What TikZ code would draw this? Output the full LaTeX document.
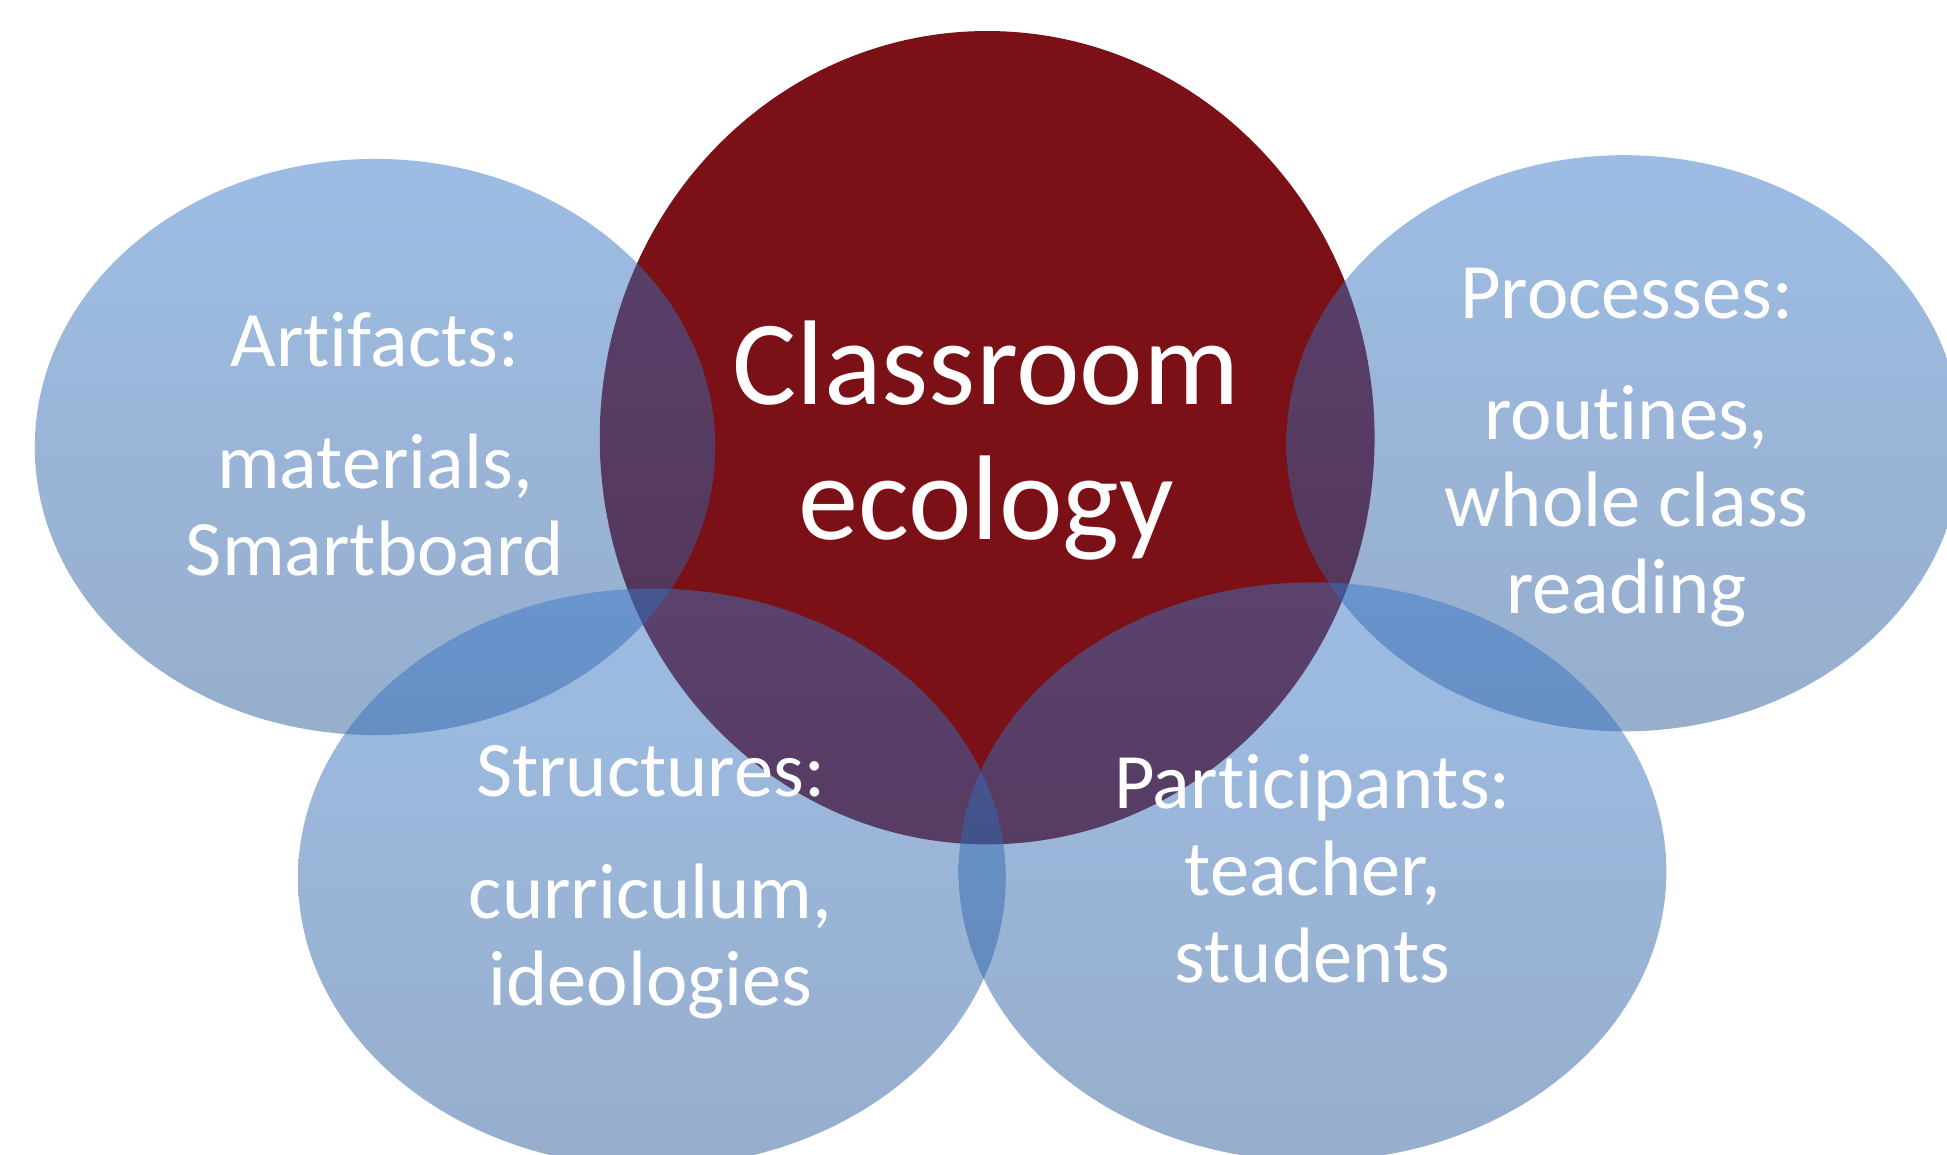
\documentclass[tikz,border=0pt]{standalone}
\usepackage{fontspec}
\setmainfont[Ligatures=NoCommon]{Carlito}
\usepackage{tikz}
\definecolor{ecored}{RGB}{123,16,23}
\definecolor{ringtop}{RGB}{56,119,199}
\definecolor{ringbot}{RGB}{42,89,152}
\tikzset{
  ring/.style={fill opacity=0.49, top color=ringtop, bottom color=ringbot, draw=none},
  ringtext/.style={text=white, align=center, anchor=north, inner sep=0pt,
    font=\fontsize{18}{19.9}\selectfont},
}

\begin{document}
\begin{tikzpicture}
  \useasboundingbox (0,0) rectangle (15.68,9.30);
  \clip (0,0) rectangle (15.68,9.30);
  \coordinate (E) at (7.95,5.775);
  \coordinate (Art) at (3.02,5.70);
  \coordinate (Proc) at (13.08,5.73);
  \coordinate (Str) at (5.25,2.23);
  \coordinate (Part) at (10.57,2.28);
  \fill[ecored] (E) ellipse [x radius=3.12, y radius=3.275];
  \shade[ring] (Art) ellipse [x radius=2.74, y radius=2.32];
  \shade[ring] (Proc) ellipse [x radius=2.72, y radius=2.32];
  \shade[ring] (Str) ellipse [x radius=2.85, y radius=2.33];
  \shade[ring] (Part) ellipse [x radius=2.85, y radius=2.33];
  \node[ringtext, font=\fontsize{27.6}{30.9}\selectfont] (eco) at (7.94,6.72) {Classroom\\ecology};
  \node[ringtext] (art) at (3.02,6.79) {Artifacts:\\[8pt]materials,\\Smartboard};
  \node[ringtext] (proc) at (13.10,7.15) {Processes:\\[8pt]routines,\\whole class\\reading};
  \node[ringtext] (str) at (5.24,3.30) {Structures:\\[8pt]curriculum,\\ideologies};
  \node[ringtext] (part) at (10.57,3.23) {Participants:\\teacher,\\students};
\end{tikzpicture}
\end{document}
